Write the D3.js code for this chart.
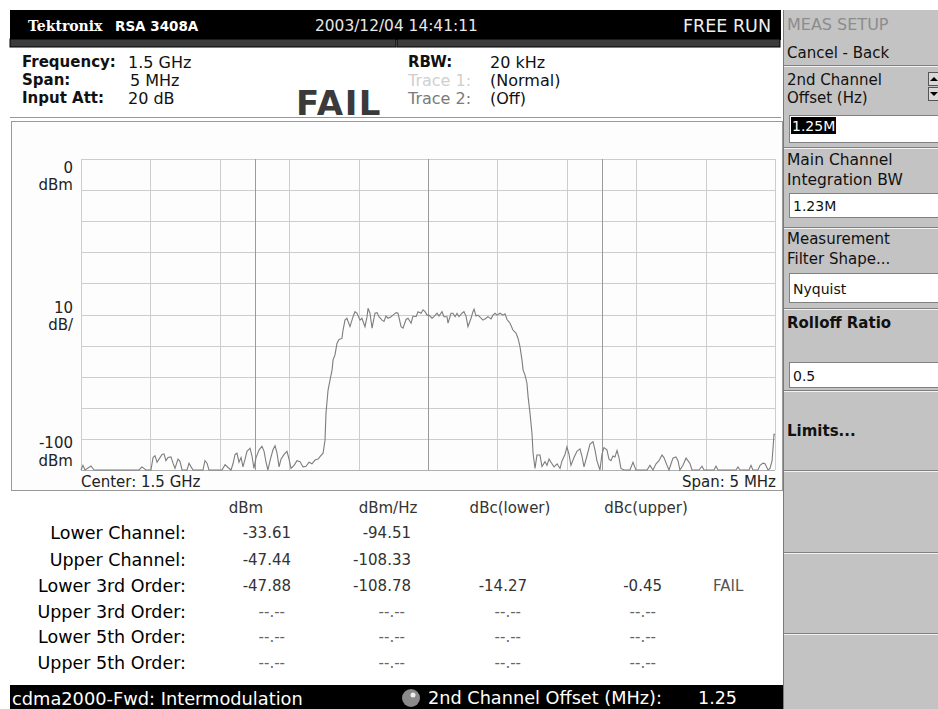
<!DOCTYPE html>
<html><head><meta charset="utf-8">
<script src="https://cdn.jsdelivr.net/npm/d3@7"></script>
<style>html,body{margin:0;padding:0;background:#fff;}svg{display:block;font-family:"DejaVu Sans",Verdana,sans-serif;}</style>
</head><body>
<script>
// ---- data ----
const traceFreq = [-2.500,-2.486,-2.471,-2.428,-2.406,-2.082,-2.061,-2.032,-1.996,-1.981,-1.967,-1.952,-1.938,-1.916,-1.902,-1.888,-1.873,-1.852,-1.837,-1.823,-1.801,-1.787,-1.772,-1.736,-1.722,-1.707,-1.693,-1.621,-1.607,-1.592,-1.578,-1.484,-1.462,-1.441,-1.419,-1.405,-1.390,-1.376,-1.362,-1.347,-1.333,-1.318,-1.304,-1.282,-1.268,-1.254,-1.239,-1.217,-1.196,-1.181,-1.167,-1.153,-1.138,-1.117,-1.102,-1.088,-1.073,-1.059,-1.037,-1.016,-1.001,-0.987,-0.965,-0.944,-0.922,-0.901,-0.879,-0.857,-0.836,-0.814,-0.792,-0.778,-0.756,-0.742,-0.735,-0.720,-0.706,-0.691,-0.684,-0.670,-0.656,-0.641,-0.620,-0.612,-0.598,-0.584,-0.562,-0.540,-0.526,-0.511,-0.490,-0.476,-0.454,-0.439,-0.432,-0.418,-0.403,-0.396,-0.382,-0.367,-0.353,-0.331,-0.317,-0.303,-0.288,-0.266,-0.252,-0.230,-0.216,-0.194,-0.180,-0.158,-0.144,-0.122,-0.108,-0.086,-0.072,-0.050,-0.036,-0.021,-0.007,0.007,0.029,0.043,0.065,0.079,0.101,0.115,0.137,0.144,0.166,0.180,0.195,0.209,0.223,0.245,0.259,0.274,0.288,0.310,0.324,0.332,0.346,0.360,0.382,0.396,0.418,0.432,0.454,0.468,0.483,0.497,0.519,0.540,0.555,0.569,0.591,0.612,0.634,0.649,0.663,0.677,0.685,0.699,0.713,0.721,0.735,0.749,0.757,0.771,0.785,0.807,0.821,0.843,0.857,0.872,0.886,0.908,0.930,0.951,0.966,0.987,1.001,1.016,1.030,1.052,1.073,1.095,1.109,1.124,1.145,1.167,1.189,1.203,1.217,1.239,1.253,1.268,1.289,1.304,1.318,1.333,1.347,1.362,1.376,1.390,1.412,1.455,1.477,1.498,1.578,1.599,1.621,1.643,1.664,1.686,1.700,1.722,1.736,1.751,1.765,1.786,1.801,1.815,1.837,1.859,1.873,1.888,1.902,1.952,1.974,1.988,2.060,2.075,2.089,2.219,2.233,2.248,2.313,2.327,2.341,2.377,2.392,2.414,2.428,2.450,2.464,2.479,2.486,2.493,2.500];
const traceLevel = [-100,-98.5,-100,-98.7,-100,-100,-99,-100,-100,-96,-95.4,-97.5,-96.5,-95,-94.8,-97,-96,-95.8,-97.8,-99.5,-96.5,-97.2,-100,-100,-97.8,-99,-100,-100,-97,-97.8,-100,-100,-98.3,-99.2,-100,-98,-95,-94.6,-97.5,-96,-99,-96.5,-94,-93,-95.5,-99.5,-96,-93.5,-92.4,-94,-97.5,-100,-97,-93.5,-92.2,-94.5,-99,-96.5,-95,-94,-96.5,-99.5,-98.5,-97,-97.3,-99,-98.8,-97.5,-98,-96.8,-96.5,-95.7,-94.6,-90.4,-81.8,-74.3,-71.1,-67.8,-64.6,-63,-59.3,-58,-57.7,-55,-51.8,-51.2,-53.9,-50.7,-49.1,-49.6,-51.8,-51.2,-53.9,-50.7,-48,-49.6,-54.4,-52.8,-49.6,-49.4,-50.7,-51.8,-52.2,-50.5,-51.2,-50.7,-50.2,-49.4,-49.6,-53.9,-54.4,-51.6,-51.2,-52.8,-50.5,-50.7,-49.1,-49.6,-48.5,-49.1,-50.2,-50.2,-51.2,-50.7,-49.6,-50.5,-49.1,-50.7,-50.7,-52.8,-49.6,-49.6,-50.7,-49.6,-50.7,-49.6,-49.1,-50.5,-53.9,-51.2,-49.1,-48.3,-50.5,-50.2,-51.2,-51.8,-51.2,-50.7,-51.4,-50.2,-49.6,-50.2,-49.6,-50.2,-49.8,-51.6,-52.8,-55,-56,-57.7,-60.4,-64.6,-67.8,-69.5,-72.1,-76.4,-81.8,-88.2,-94.6,-99.5,-95.2,-95.2,-98.9,-97.3,-98.5,-96.5,-97.5,-99,-98,-99.5,-97,-95,-92.6,-95,-98.5,-96,-94,-93.2,-95.5,-99,-95.5,-91.7,-90.9,-93.5,-97,-100,-95,-92.8,-93.5,-96.5,-97,-95.5,-95.8,-93.7,-96,-99.5,-100,-100,-97.5,-100,-100,-98.5,-100,-98,-97,-95.2,-96,-98.5,-100,-98,-96.2,-95.8,-97,-100,-98.5,-96.2,-97,-98,-100,-100,-98.8,-100,-100,-98.8,-100,-100,-99,-100,-100,-98.5,-100,-100,-98.5,-97.8,-98,-100,-99.5,-97,-92.8,-88.5,-88.7];
const channelMarkers = [-1.25, 0, 1.25];
const freqTicks = [-2.5,-2,-1.5,-1,-0.5,0,0.5,1,1.5,2,2.5];
const levelTicks = [-100,-90,-80,-70,-60,-50,-40,-30,-20,-10,0];

const rowLabels = ["Lower Channel:","Upper Channel:","Lower 3rd Order:","Upper 3rd Order:","Lower 5th Order:","Upper 5th Order:"];
const colHeaders = ["dBm","dBm/Hz","dBc(lower)","dBc(upper)"];
const dBmValues = ["-33.61","-47.44","-47.88","--.--","--.--","--.--"];
const dBmHzValues = ["-94.51","-108.33","-108.78","--.--","--.--","--.--"];
const dBcLowerValues = ["","","-14.27","--.--","--.--","--.--"];
const dBcUpperValues = ["","","-0.45","--.--","--.--","--.--"];
const statusValues = ["","","FAIL","","",""];

const W = 938, H = 709;
const svg = d3.select("body").append("svg").attr("width", W).attr("height", H);
svg.append("rect").attr("width", W).attr("height", H).attr("fill", "#fff");

function txt(g, x, y, s, o = {}) {
  return g.append("text").attr("x", x).attr("y", y).attr("dominant-baseline", "central")
    .attr("font-size", o.size || 15).attr("font-weight", o.weight || "normal")
    .attr("fill", o.fill || "#111").attr("text-anchor", o.anchor || "start")
    .attr("font-family", o.family || null).attr("letter-spacing", o.ls || null).text(s);
}

// ---- header ----
svg.append("rect").attr("x", 10).attr("y", 10).attr("width", 771).attr("height", 30).attr("fill", "#000");
svg.append("rect").attr("x", 10).attr("y", 39).attr("width", 386).attr("height", 8).attr("fill", "#3c3c3c").attr("stroke", "#000");
svg.append("rect").attr("x", 397).attr("y", 39).attr("width", 383).attr("height", 8).attr("fill", "#3c3c3c").attr("stroke", "#000");
txt(svg, 28, 26, "Tektronix", {size: 14, weight: "bold", fill: "#fff", family: "DejaVu Serif"});
txt(svg, 115, 26, "RSA 3408A", {size: 13.5, weight: "bold", fill: "#fff"});
txt(svg, 315, 26, "2003/12/04 14:41:11", {size: 15.4, fill: "#e8e8e8"});
txt(svg, 771, 26, "FREE RUN", {size: 17.5, fill: "#f0f0f0", anchor: "end"});

txt(svg, 22, 62, "Frequency:", {size: 15, weight: "bold"});
txt(svg, 22, 80, "Span:", {size: 15, weight: "bold"});
txt(svg, 22, 98, "Input Att:", {size: 15, weight: "bold"});
txt(svg, 128, 62, "1.5 GHz", {size: 16});
txt(svg, 130, 80, "5 MHz", {size: 16});
txt(svg, 128, 98, "20 dB", {size: 16});
txt(svg, 296, 103, "FAIL", {size: 34, weight: "bold", fill: "#3a3a3a", ls: 1.5});
txt(svg, 408, 62, "RBW:", {size: 15, weight: "bold"});
txt(svg, 490, 62, "20 kHz", {size: 16});
txt(svg, 408, 80, "Trace 1:", {size: 16, fill: "#cfcfcf"});
txt(svg, 490, 80, "(Normal)", {size: 16});
txt(svg, 408, 98, "Trace 2:", {size: 16, fill: "#7a7a7a"});
txt(svg, 490, 98, "(Off)", {size: 16});
svg.append("line").attr("x1", 10).attr("x2", 781).attr("y1", 117.5).attr("y2", 117.5).attr("stroke", "#999");

// ---- plot frame ----
svg.append("rect").attr("x", 11.5).attr("y", 121.5).attr("width", 771).attr("height", 369).attr("fill", "#fdfdfd").attr("stroke", "#9a9a9a");

const x = d3.scaleLinear().domain([-2.5, 2.5]).range([81, 775]);
const y = d3.scaleLinear().domain([-100, 0]).range([470, 159]);
const plot = svg.append("g");
plot.selectAll("line.h").data(levelTicks).join("line")
  .attr("x1", x(-2.5)).attr("x2", x(2.5)).attr("y1", d => Math.round(y(d)) + 0.5).attr("y2", d => Math.round(y(d)) + 0.5)
  .attr("stroke", d => d === -100 ? "#b0b0b0" : "#cdcdcd");
plot.selectAll("line.v").data(freqTicks).join("line")
  .attr("x1", d => Math.round(x(d)) + 0.5).attr("x2", d => Math.round(x(d)) + 0.5).attr("y1", y(0)).attr("y2", y(-100))
  .attr("stroke", "#cdcdcd");
plot.selectAll("line.m").data(channelMarkers).join("line")
  .attr("x1", d => Math.round(x(d)) + 0.5).attr("x2", d => Math.round(x(d)) + 0.5).attr("y1", y(0)).attr("y2", y(-100))
  .attr("stroke", "#9a9a9a");

const pts = traceFreq.map((f, i) => [f, Math.max(-100, traceLevel[i])]);
plot.append("path").datum(pts)
  .attr("d", d3.line().x(d => x(d[0])).y(d => y(d[1])))
  .attr("fill", "none").attr("stroke", "#7d7d7d").attr("stroke-width", 1.1);

txt(svg, 73, 168, "0", {size: 15, anchor: "end", fill: "#222"});
txt(svg, 73, 185, "dBm", {size: 15, anchor: "end", fill: "#222"});
txt(svg, 73, 308, "10", {size: 15, anchor: "end", fill: "#222"});
txt(svg, 73, 325, "dB/", {size: 15, anchor: "end", fill: "#222"});
txt(svg, 73, 443, "-100", {size: 15, anchor: "end", fill: "#222"});
txt(svg, 73, 461, "dBm", {size: 15, anchor: "end", fill: "#222"});
txt(svg, 81, 482, "Center: 1.5 GHz", {size: 15, fill: "#222"});
txt(svg, 776, 482, "Span: 5 MHz", {size: 15, fill: "#222", anchor: "end"});

// ---- table ----
const colRight = [291, 411, 527, 662];
const colCenter = [246, 388, 510, 646];
const rowY = [533, 560, 586, 612, 637, 663];
colHeaders.forEach((h, i) => txt(svg, colCenter[i], 508, h, {size: 15, anchor: "middle", fill: "#333"}));
rowLabels.forEach((l, i) => txt(svg, 186, rowY[i], l, {size: 17.5, anchor: "end", fill: "#000"}));
[dBmValues, dBmHzValues, dBcLowerValues, dBcUpperValues].forEach((col, ci) => {
  col.forEach((v, ri) => {
    if (!v) return;
    const dash = v === "--.--";
    txt(svg, colRight[ci] - (dash ? 6 : 0), rowY[ri], v, {size: 15, anchor: "end", fill: dash ? "#666" : "#333"});
  });
});
statusValues.forEach((v, ri) => { if (v) txt(svg, 713, rowY[ri], v, {size: 15, fill: "#555"}); });

// ---- bottom bar ----
svg.append("rect").attr("x", 10).attr("y", 685).attr("width", 773).attr("height", 24).attr("fill", "#000");
txt(svg, 12, 698, "cdma2000-Fwd: Intermodulation", {size: 17.8, fill: "#fff"});
svg.append("circle").attr("cx", 411).attr("cy", 698).attr("r", 9).attr("fill", "#8a8a8a");
svg.append("circle").attr("cx", 413).attr("cy", 695).attr("r", 2.5).attr("fill", "#eee");
txt(svg, 428, 698, "2nd Channel Offset (MHz):", {size: 17.7, fill: "#fff"});
txt(svg, 698, 698, "1.25", {size: 17.5, fill: "#fff"});

// ---- right panel ----
const P = svg.append("g");
P.append("rect").attr("x", 783).attr("y", 10).attr("width", 155).attr("height", 699).attr("fill", "#c3c3c3");
P.append("line").attr("x1", 783.5).attr("x2", 783.5).attr("y1", 10).attr("y2", 709).attr("stroke", "#7a7a7a");
[65, 147, 227, 308, 390, 470, 552, 633].forEach(s => {
  P.append("line").attr("x1", 784).attr("x2", 938).attr("y1", s + 0.5).attr("y2", s + 0.5).attr("stroke", "#808080");
  P.append("line").attr("x1", 784).attr("x2", 938).attr("y1", s + 1.5).attr("y2", s + 1.5).attr("stroke", "#f2f2f2");
});
txt(P, 787, 24, "MEAS SETUP", {size: 16, fill: "#8c8c8c"});
txt(P, 787, 53, "Cancel - Back", {size: 15, fill: "#111"});
txt(P, 787, 80, "2nd Channel", {size: 15, fill: "#111"});
txt(P, 787, 98, "Offset (Hz)", {size: 15, fill: "#111"});
// spin buttons
[[72, "up"], [87, "down"]].forEach(([yy, dir]) => {
  P.append("rect").attr("x", 928.5).attr("y", yy + 0.5).attr("width", 10).attr("height", 13).attr("fill", "#d8d8d8").attr("stroke", "#555");
  const t = dir === "up" ? `M930,${yy + 9} L934,${yy + 5} L938,${yy + 9}Z` : `M930,${yy + 5} L934,${yy + 9} L938,${yy + 5}Z`;
  P.append("path").attr("d", t).attr("fill", "#000");
});
function box(y0, h, s, hl) {
  P.append("rect").attr("x", 789.5).attr("y", y0 + 0.5).attr("width", 150).attr("height", h).attr("fill", "#fff").attr("stroke", "#808080");
  if (hl) {
    P.append("rect").attr("x", 791).attr("y", y0 + 2).attr("width", 45).attr("height", 17).attr("fill", "#000");
    txt(P, 792, y0 + 10.5, s, {size: 14, fill: "#fff"});
  } else {
    txt(P, 793, y0 + h / 2 + 1, s, {size: 14, fill: "#111"});
  }
}
box(115, 27, "1.25M", true);
txt(P, 787, 160, "Main Channel", {size: 15.5, fill: "#111"});
txt(P, 787, 180, "Integration BW", {size: 15.5, fill: "#111"});
box(193, 24, "1.23M", false);
txt(P, 787, 239, "Measurement", {size: 15, fill: "#111"});
txt(P, 787, 259, "Filter Shape...", {size: 15, fill: "#111"});
box(273, 29, "Nyquist", false);
txt(P, 787, 323, "Rolloff Ratio", {size: 15, weight: "bold", fill: "#111"});
box(362, 25, "0.5", false);
txt(P, 787, 431, "Limits...", {size: 15, weight: "bold", fill: "#111"});
</script>
</body></html>
